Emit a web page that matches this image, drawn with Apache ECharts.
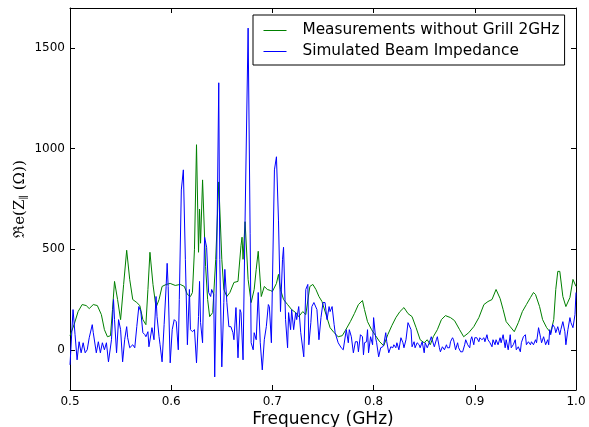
<!DOCTYPE html>
<html><head><meta charset="utf-8">
<script src="https://cdn.jsdelivr.net/npm/echarts@6/dist/echarts.min.js"></script>
<style>html,body{margin:0;padding:0;background:#fff}#c{width:589px;height:427px}</style>
</head><body><div id="c"></div>
<script>
var seriesNames = ['Measurements without Grill 2GHz', 'Simulated Beam Impedance'];
var seriesColors = ['#008000', '#0000ff'];
var xTicks = [0.5, 0.6, 0.7, 0.8, 0.9, 1.0];
var yTicks = [0, 500, 1000, 1500];

var greenFreq = [0.500,0.504,0.508,0.512,0.516,0.519,0.523,0.527,0.531,0.534,
0.537,0.540,0.542,0.544,0.547,0.550,0.553,0.556,0.559,0.562,
0.566,0.569,0.572,0.575,0.577,0.579,0.582,0.585,0.588,0.591,
0.595,0.599,0.604,0.609,0.613,0.616,0.619,0.621,0.623,0.625,
0.627,0.628,0.629,0.631,0.634,0.636,0.638,0.641,0.644,0.647,
0.650,0.652,0.655,0.658,0.662,0.666,0.669,0.670,0.671,0.673,
0.676,0.679,0.682,0.684,0.686,0.689,0.692,0.695,0.698,0.700,
0.704,0.706,0.708,0.711,0.715,0.719,0.723,0.726,0.730,0.733,
0.737,0.740,0.743,0.746,0.749,0.753,0.757,0.761,0.765,0.769,
0.772,0.777,0.781,0.785,0.789,0.791,0.794,0.798,0.802,0.806,
0.810,0.814,0.818,0.822,0.826,0.830,0.834,0.838,0.842,0.846,
0.850,0.853,0.856,0.859,0.863,0.867,0.871,0.876,0.880,0.885,
0.889,0.894,0.899,0.904,0.909,0.913,0.917,0.921,0.925,0.928,
0.931,0.935,0.939,0.943,0.947,0.951,0.955,0.958,0.960,0.964,
0.967,0.971,0.975,0.978,0.980,0.982,0.984,0.987,0.990,0.994,
0.997,1.000];
var greenValue = [70,125,190,225,220,205,225,220,175,100,
65,70,200,340,250,150,325,495,350,250,
235,220,150,125,300,485,325,210,250,315,
325,330,320,325,315,275,265,285,500,1020,
485,700,530,845,415,250,165,185,450,835,
450,300,265,285,335,340,520,560,450,637,
350,235,300,400,490,265,315,300,295,290,
330,375,300,250,225,200,185,165,190,175,
315,325,300,265,240,175,110,85,65,70,
95,140,180,225,245,200,140,100,70,40,
20,75,120,160,190,210,180,165,110,50,
35,50,25,65,100,150,170,160,145,100,
65,85,115,160,225,240,250,300,255,200,
140,115,90,135,190,225,260,285,275,215,
150,110,85,150,300,390,390,265,215,260,
350,315];

var blueFreq = [0.500,0.503,0.505,0.507,0.509,0.511,0.513,0.515,0.517,0.519,
0.522,0.523,0.526,0.528,0.530,0.532,0.534,0.536,0.538,0.541,
0.543,0.544,0.546,0.548,0.550,0.552,0.554,0.556,0.557,0.559,
0.562,0.564,0.566,0.568,0.570,0.572,0.574,0.575,0.577,0.578,
0.581,0.583,0.585,0.586,0.588,0.589,0.591,0.593,0.595,0.596,
0.597,0.599,0.601,0.603,0.605,0.607,0.608,0.610,0.612,0.614,
0.616,0.618,0.619,0.621,0.623,0.625,0.627,0.628,0.629,0.631,
0.633,0.635,0.637,0.639,0.640,0.642,0.643,0.645,0.647,0.648,
0.650,0.652,0.653,0.655,0.657,0.659,0.661,0.662,0.664,0.666,
0.668,0.669,0.671,0.673,0.676,0.678,0.679,0.681,0.682,0.684,
0.686,0.688,0.690,0.692,0.694,0.696,0.697,0.699,0.702,0.704,
0.706,0.708,0.710,0.711,0.713,0.715,0.716,0.718,0.719,0.721,
0.723,0.724,0.726,0.728,0.731,0.733,0.735,0.736,0.738,0.739,
0.741,0.744,0.746,0.748,0.750,0.752,0.754,0.756,0.757,0.759,
0.761,0.762,0.765,0.768,0.770,0.773,0.775,0.776,0.778,0.780,
0.782,0.784,0.785,0.787,0.789,0.790,0.791,0.793,0.794,0.795,
0.797,0.799,0.800,0.802,0.803,0.805,0.807,0.809,0.810,0.812,
0.813,0.815,0.817,0.819,0.820,0.822,0.823,0.825,0.827,0.829,
0.830,0.832,0.834,0.835,0.837,0.838,0.840,0.841,0.843,0.845,
0.846,0.848,0.850,0.851,0.853,0.855,0.857,0.858,0.860,0.862,
0.863,0.865,0.866,0.868,0.870,0.872,0.873,0.875,0.876,0.878,
0.879,0.881,0.883,0.884,0.886,0.888,0.890,0.891,0.893,0.895,
0.896,0.897,0.899,0.900,0.902,0.904,0.905,0.907,0.909,0.910,
0.912,0.913,0.915,0.917,0.918,0.920,0.921,0.923,0.925,0.926,
0.928,0.930,0.931,0.933,0.935,0.936,0.938,0.940,0.941,0.943,
0.945,0.946,0.948,0.950,0.951,0.953,0.955,0.956,0.958,0.960,
0.961,0.963,0.965,0.966,0.968,0.970,0.972,0.973,0.974,0.975,
0.977,0.979,0.980,0.982,0.984,0.985,0.987,0.989,0.990,0.992,
0.994,0.995,0.997,0.999,1.000];
var blueValue = [-75,200,75,-50,40,-15,35,-15,0,60,
125,85,-15,40,-15,35,0,35,-60,50,
250,150,-15,150,100,-60,50,115,60,10,
25,10,115,215,190,85,75,65,90,15,
110,50,265,165,65,25,-60,125,315,430,
315,-65,100,150,140,0,250,795,895,450,
25,300,100,90,100,-65,165,340,135,35,
560,510,285,265,300,275,-135,450,1328,450,
-85,235,400,235,115,115,85,50,210,-40,
200,185,-50,645,1600,580,35,0,85,50,
285,35,-100,50,115,225,215,35,895,960,
645,190,450,510,150,10,185,100,200,100,
185,150,215,85,-35,300,325,25,135,215,
235,200,50,160,235,235,150,215,190,215,
125,85,35,10,0,100,35,100,65,-15,
40,40,-10,75,65,-25,35,40,100,-15,
65,25,160,60,35,-35,10,15,25,85,
40,-15,15,10,25,10,35,0,60,35,
10,50,135,140,100,15,40,10,35,25,
10,40,-15,35,10,35,65,60,15,50,
65,10,-10,15,0,25,10,10,40,60,
50,0,35,10,-10,-10,25,50,25,10,
50,65,25,60,60,40,60,50,60,40,
75,50,35,15,50,25,50,25,60,35,
75,10,50,0,75,10,25,50,0,15,
-10,35,65,75,25,40,25,40,25,50,
35,110,60,35,65,25,50,25,100,75,
125,110,85,115,75,100,140,90,25,100,
160,135,110,175,285];

function pairs(xs, ys) { return xs.map(function (x, i) { return [x, ys[i]]; }); }

var font = 'DejaVu Sans';
var chart = echarts.init(document.getElementById('c'), null, { renderer: 'canvas' });
var tickStyle = { show: true, inside: true, length: 5, lineStyle: { color: '#000', width: 1 } };
chart.setOption({
  animation: false,
  backgroundColor: '#fff',
  grid: { left: 70, right: 13, top: 8, bottom: 37, containLabel: false, outerBoundsMode: 'none' },
  legend: {
    left: 253, top: 15, orient: 'vertical',
    padding: [8, 5, 6, 10], itemGap: 6, itemWidth: 23, itemHeight: 16,
    borderColor: '#000', borderWidth: 1, borderRadius: 0, backgroundColor: '#fff',
    itemStyle: { opacity: 0 },
    textStyle: { fontFamily: font, fontSize: 15.3, color: '#000', padding: [0, 0, 0, 11] },
    data: seriesNames.map(function (n, i) {
      return { name: n, lineStyle: { color: seriesColors[i], width: 1 } };
    })
  },
  xAxis: [{
    type: 'value', min: 0.5, max: 1.0, position: 'bottom',
    name: 'Frequency (GHz)', nameLocation: 'middle', nameGap: 21, nameMoveOverlap: false,
    nameTextStyle: { fontFamily: font, fontSize: 17, color: '#000' },
    axisLine: { show: true, onZero: false, lineStyle: { color: '#000', width: 1 } },
    axisTick: Object.assign({ customValues: xTicks }, tickStyle),
    axisLabel: { customValues: xTicks, fontFamily: font, fontSize: 12, color: '#000', margin: 6,
      formatter: function (v) { return v.toFixed(1); } },
    splitLine: { show: false }
  }, {
    type: 'value', min: 0.5, max: 1.0, position: 'top',
    axisLine: { show: true, onZero: false, lineStyle: { color: '#000', width: 1 } },
    axisTick: Object.assign({ customValues: xTicks }, tickStyle),
    axisLabel: { show: false }, splitLine: { show: false }
  }],
  yAxis: [{
    type: 'value', min: -200, max: 1700, position: 'left',
    name: 'ℜe(Z{s|∥} (Ω))', nameLocation: 'middle', nameGap: 41, nameMoveOverlap: false,
    nameTextStyle: { fontFamily: 'DejaVu Serif', fontSize: 15, color: '#000',
      rich: { s: { fontFamily: 'DejaVu Serif', fontSize: 10, color: '#000', padding: [8, 0, 0, 0] } } },
    axisLine: { show: true, onZero: false, lineStyle: { color: '#000', width: 1 } },
    axisTick: Object.assign({ customValues: yTicks }, tickStyle),
    axisLabel: { customValues: yTicks, fontFamily: font, fontSize: 12, color: '#000', margin: 5,
      formatter: function (v) { return String(v); } },
    splitLine: { show: false }
  }, {
    type: 'value', min: -200, max: 1700, position: 'right',
    axisLine: { show: true, onZero: false, lineStyle: { color: '#000', width: 1 } },
    axisTick: Object.assign({ customValues: yTicks }, tickStyle),
    axisLabel: { show: false }, splitLine: { show: false }
  }],
  series: [{
    name: seriesNames[0], type: 'line', xAxisIndex: 0, yAxisIndex: 0,
    data: pairs(greenFreq, greenValue), symbol: 'none', showSymbol: false,
    lineStyle: { color: seriesColors[0], width: 1 }, itemStyle: { color: seriesColors[0] }
  }, {
    name: seriesNames[1], type: 'line', xAxisIndex: 0, yAxisIndex: 0,
    data: pairs(blueFreq, blueValue), symbol: 'none', showSymbol: false,
    lineStyle: { color: seriesColors[1], width: 1 }, itemStyle: { color: seriesColors[1] }
  }]
});
</script>
</body></html>
